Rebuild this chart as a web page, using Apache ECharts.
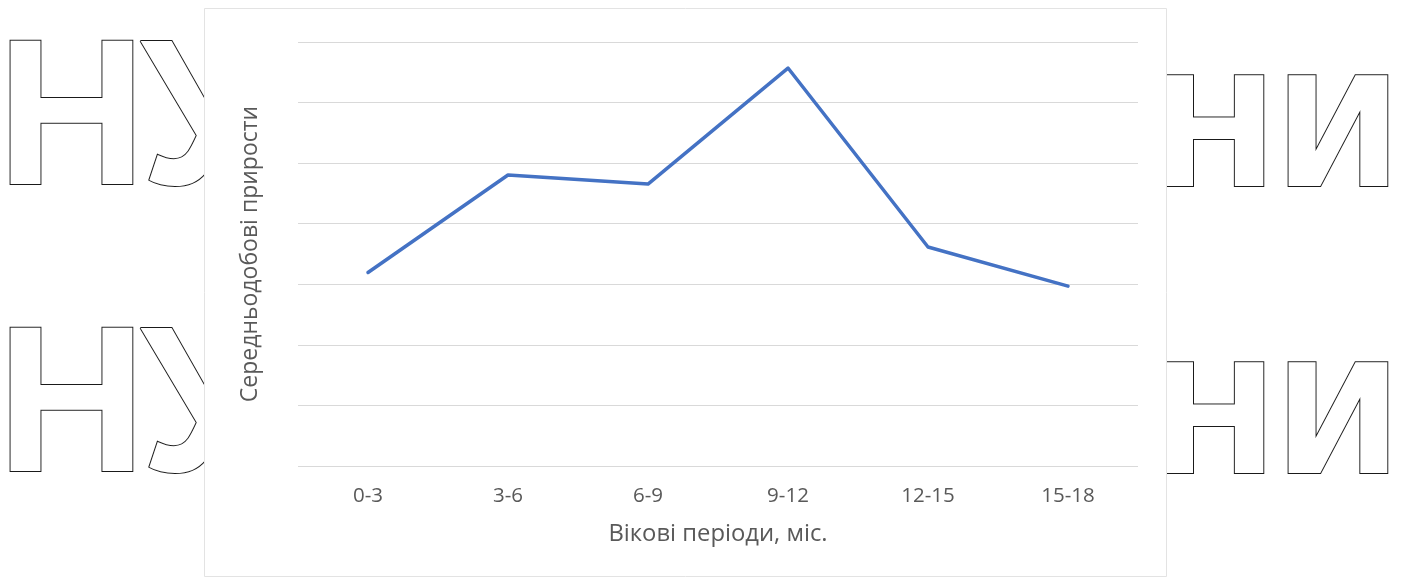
<!DOCTYPE html>
<html>
<head>
<meta charset="utf-8">
<script src="https://cdn.jsdelivr.net/npm/echarts@6/dist/echarts.min.js"></script>
<style>
  html, body { margin: 0; padding: 0; background: #fff; }
  #chart { width: 1406px; height: 580px; }
</style>
</head>
<body>
<div id="chart"></div>
<script>
// вікові періоди, міс.
const periods = ['0-3', '3-6', '6-9', '9-12', '12-15', '15-18'];
// середньодобові прирости (вісь без підписів, значення оцінені з рисунка)
const gains = [639, 961, 931, 1314, 723, 594];

const chart = echarts.init(document.getElementById('chart'));

// контурний напис на фоні
function outline(txt, x, y, size, family) {
  return {
    type: 'text',
    z: 0,
    x: x,
    y: y,
    style: {
      text: txt,
      font: 'bold ' + size + 'px ' + family,
      fill: '#fff',
      stroke: '#1a1a1a',
      lineWidth: 2,
      align: 'center',
      verticalAlign: 'middle'
    }
  };
}

const option = {
  backgroundColor: '#fff',
  animation: false,
  graphic: [
    outline('Н', 71.5, 127, 207, '"Liberation Sans"'),
    outline('У', 205, 127, 207, '"Liberation Sans"'),
    outline('Н', 71.5, 414, 207, '"Liberation Sans"'),
    outline('У', 205, 414, 207, '"Liberation Sans"'),
    outline('Н', 1214, 147, 151, '"DejaVu Sans"'),
    outline('И', 1338, 147, 151, '"DejaVu Sans"'),
    outline('Н', 1214, 434, 151, '"DejaVu Sans"'),
    outline('И', 1338, 434, 151, '"DejaVu Sans"'),
    {
      type: 'rect',
      z: 1,
      shape: { x: 204.5, y: 8.5, width: 962, height: 568 },
      style: { fill: '#fff', stroke: '#e3e3e3', lineWidth: 1 }
    }
  ],
  grid: { left: 298, right: 268, top: 42, bottom: 114 },
  xAxis: {
    type: 'category',
    data: periods,
    z: 3,
    boundaryGap: true,
    axisLine: { show: false },
    axisTick: { show: false },
    axisLabel: {
      color: '#595959',
      fontFamily: 'Open Sans',
      fontSize: 20.5,
      margin: 20
    },
    name: 'Вікові періоди, міс.',
    nameLocation: 'middle',
    nameGap: 56,
    nameTextStyle: {
      color: '#595959',
      fontFamily: 'Open Sans',
      fontSize: 23.8
    }
  },
  yAxis: {
    type: 'value',
    min: 0,
    max: 1400,
    interval: 200,
    z: 3,
    axisLine: { show: false },
    axisTick: { show: false },
    axisLabel: { show: false },
    splitLine: { lineStyle: { color: '#d9d9d9', width: 1 } },
    name: 'Середньодобові прирости',
    nameLocation: 'middle',
    nameGap: 36,
    nameTextStyle: {
      color: '#595959',
      fontFamily: 'Open Sans',
      fontSize: 23
    }
  },
  series: [{
    type: 'line',
    z: 5,
    data: gains,
    symbol: 'none',
    lineStyle: { color: '#4472c4', width: 3.5, cap: 'round', join: 'round' }
  }]
};

chart.setOption(option);
</script>
</body>
</html>
